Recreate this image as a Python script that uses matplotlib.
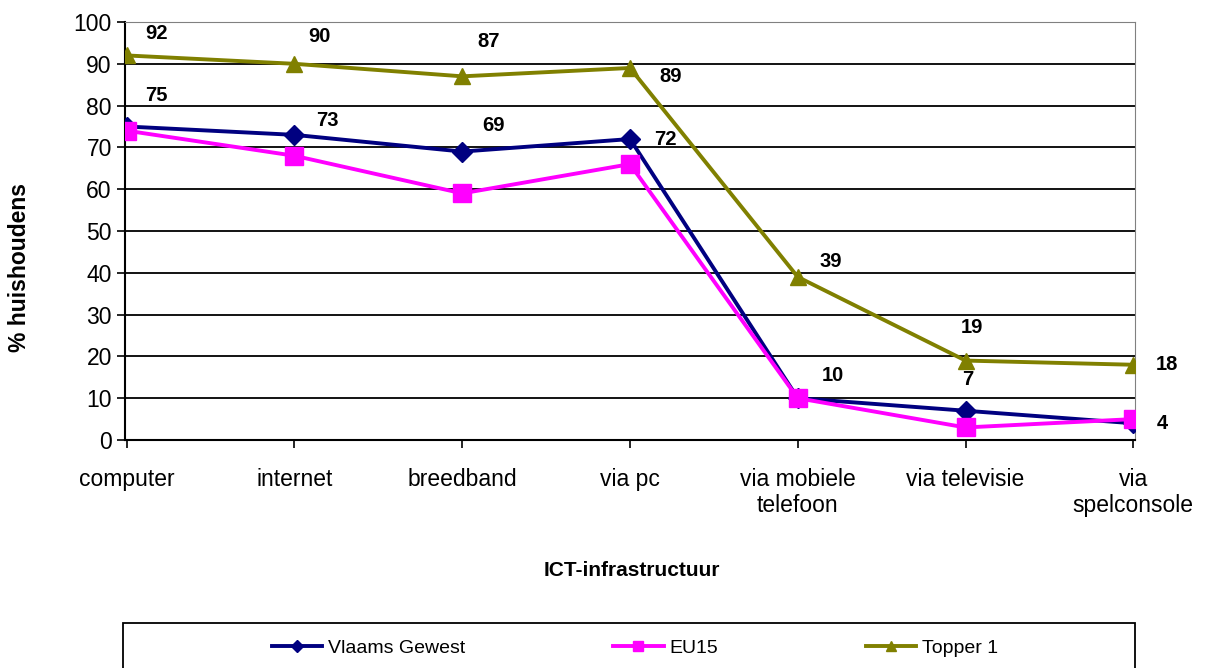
import numpy as np
import matplotlib.pyplot as plt
from matplotlib.patches import Rectangle

plt.rcParams['font.family'] = ['Liberation Sans', 'DejaVu Sans']

categories = ['computer', 'internet', 'breedband', 'via pc',
              'via mobiele\ntelefoon', 'via televisie', 'via\nspelconsole']
vlaams = [75, 73, 69, 72, 10, 7, 4]
eu15 = [74, 68, 59, 66, 10, 3, 5]
topper = [92, 90, 87, 89, 39, 19, 18]

# label offsets in pixels (dx, dy) for the labelled series
vlaams_off = [(30, 31), (33, 14), (31, 26), (35, 0), (35, 23), (2, 31), (29, 0)]
topper_off = [(30, 22), (25, 27), (26, 35), (41, -9), (33, 15), (6, 33), (34, 0)]

fig = plt.figure(figsize=(12.09, 6.68), dpi=100)
ax = fig.add_axes([125 / 1209, 1 - 440 / 668, 1010 / 1209, 418 / 668])

x = np.arange(len(categories))
ax.plot(x, vlaams, color='#000080', lw=2.8, marker='D', ms=10, label='Vlaams Gewest', zorder=3)
ax.plot(x, eu15, color='#FF00FF', lw=2.8, marker='s', ms=13, label='EU15', zorder=4)
ax.plot(x, topper, color='#808000', lw=2.8, marker='^', ms=11, label='Topper 1', zorder=5)

for xi, v, (dx, dy) in zip(x, vlaams, vlaams_off):
    ax.annotate(str(v), (xi, v), xytext=(dx, dy), textcoords='offset pixels',
                ha='center', va='center', fontsize=14.5, fontweight='bold')
for xi, v, (dx, dy) in zip(x, topper, topper_off):
    ax.annotate(str(v), (xi, v), xytext=(dx, dy), textcoords='offset pixels',
                ha='center', va='center', fontsize=14.5, fontweight='bold')

ax.set_xlim(-0.01, 6.01)
ax.set_ylim(0, 100)
ax.set_yticks(range(0, 101, 10))
ax.set_xticks(x)
ax.set_xticklabels(categories)
ax.tick_params(axis='both', direction='out', length=6, width=1.2, labelsize=16.5)
ax.tick_params(axis='x', pad=14)
for y in range(10, 100, 10):
    ax.axhline(y, color='black', lw=1.3, zorder=1)
ax.spines['left'].set_linewidth(1.5)
ax.spines['bottom'].set_linewidth(1.5)
ax.spines['top'].set_color('#808080')
ax.spines['right'].set_color('#808080')

fig.text(20 / 1209, 1 - 268 / 668, '% huishoudens', rotation=90, ha='center', va='center',
         fontsize=16.5, fontweight='bold')
fig.text(632 / 1209, 1 - 570 / 668, 'ICT-infrastructuur', ha='center', va='center',
         fontsize=15, fontweight='bold')

# legend frame runs past the bottom edge
fig.patches.append(Rectangle((123 / 1209, -0.05), 1012 / 1209, 1 - 623 / 668 + 0.05,
                             transform=fig.transFigure, fill=False, edgecolor='black', lw=1.3))
fig.legend(loc='center', bbox_to_anchor=(635 / 1209, 1 - 648 / 668), ncol=3, frameon=False,
           fontsize=14, handlelength=2.6, handletextpad=0.3, columnspacing=7.6,
           markerscale=0.6)

fig.savefig('out.png', dpi=100)
